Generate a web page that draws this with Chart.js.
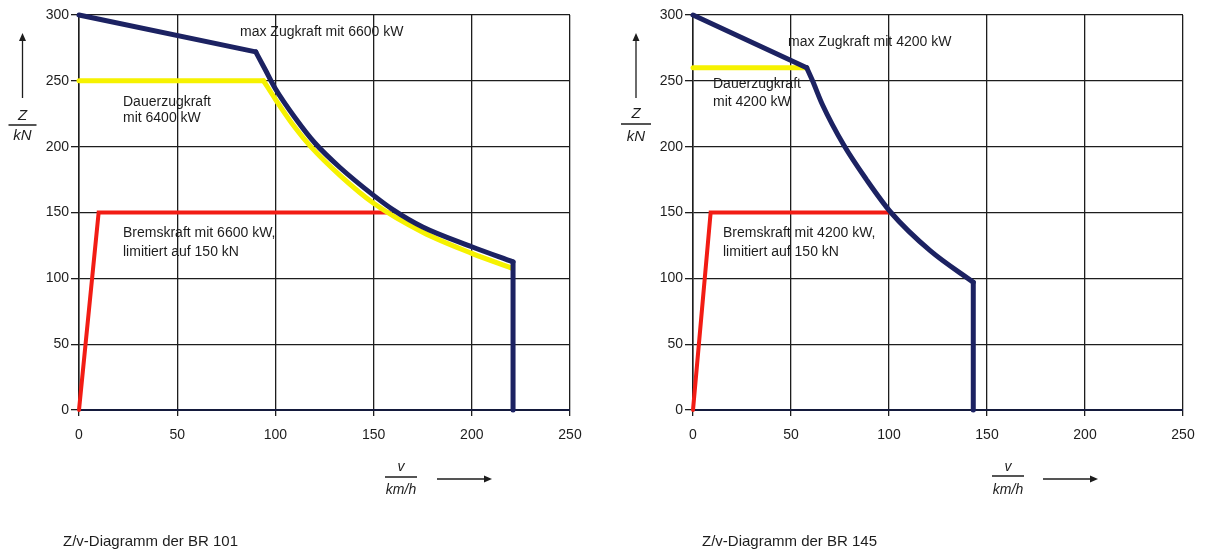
<!DOCTYPE html>
<html lang="de">
<head>
<meta charset="utf-8">
<title>Z/v-Diagramme BR 101 und BR 145</title>
<script src="https://cdn.jsdelivr.net/npm/chart.js@4/dist/chart.umd.min.js"></script>
<style>
  html, body { margin: 0; padding: 0; background: #ffffff; }
  #wrap { position: relative; width: 1207px; height: 554px; overflow: hidden; background: #fff; }
  .pane { position: absolute; top: 0; height: 554px; }
  #paneA { left: 0; width: 600px; }
  #paneB { left: 600px; width: 607px; }
</style>
</head>
<body>
<div id="wrap">
  <div class="pane" id="paneA"><canvas id="br101"></canvas></div>
  <div class="pane" id="paneB"><canvas id="br145"></canvas></div>
</div>
<script>
// ---- axis ticks (km/h and kN) ----
const speedTicks = [0, 50, 100, 150, 200, 250];
const forceTicks = [0, 50, 100, 150, 200, 250, 300];

// ---- BR 101 ----
// max. tractive effort: adhesion limit, power hyperbola, speed limit
const br101AdhesionSpeed = [0, 90];
const br101AdhesionForce = [300, 272];
const br101PowerSpeed = [90, 95, 100, 110, 120, 133, 150, 160, 175, 200, 221];
const br101PowerForce = [272, 258, 244, 222, 203, 184, 163, 152, 139, 124, 112.5];
const br101LimitSpeed = [221, 221];
const br101LimitForce = [112.5, 0];
// continuous tractive effort
const br101ContFlatSpeed = [0, 94];
const br101ContFlatForce = [250, 250];
const br101ContCurveSpeed = [94, 100, 110, 118, 133, 150, 175, 200, 220];
const br101ContCurveForce = [250, 236, 214.5, 200, 178, 157, 135, 119, 108];
// braking effort
const br101BrakeSpeed = [0, 10, 158];
const br101BrakeForce = [0, 150, 150];

// ---- BR 145 ----
const br145AdhesionSpeed = [0, 58];
const br145AdhesionForce = [300, 260];
const br145PowerSpeed = [58, 61, 66, 77, 88.5, 101, 121, 143];
const br145PowerForce = [260, 250, 232, 201, 175, 150, 121, 97];
const br145LimitSpeed = [143, 143];
const br145LimitForce = [97, 0];
const br145ContSpeed = [0, 58];
const br145ContForce = [260, 260];
const br145BrakeSpeed = [0, 9, 100];
const br145BrakeForce = [0, 150, 150];

const NAVY = '#1c2262';
const YELLOW = '#f6f200';
const RED = '#f21c14';
const INK = '#1d1d1d';
const FONT = '"Liberation Sans", Arial, Helvetica, sans-serif';

function pts(xs, ys) { return xs.map((x, i) => ({ x: x, y: ys[i] })); }

function line(label, xs, ys, color, width, smooth, order) {
  return {
    label: label,
    data: pts(xs, ys),
    borderColor: color,
    backgroundColor: color,
    borderWidth: width,
    pointRadius: 0,
    tension: smooth ? 0.4 : 0,
    cubicInterpolationMode: smooth ? 'monotone' : 'default',
    fill: false,
    clip: false,
    order: order,
    borderJoinStyle: 'miter',
    borderCapStyle: 'round'
  };
}

// Draws the in-plot labels, the axis quantity fractions with arrows and the caption.
const decorations = {
  id: 'decorations',
  afterDraw(chart, args, opts) {
    const ctx = chart.ctx;
    ctx.save();
    ctx.fillStyle = INK;
    ctx.strokeStyle = INK;
    ctx.textBaseline = 'middle';

    // annotations inside the plot
    ctx.font = '14px ' + FONT;
    ctx.textAlign = 'left';
    opts.notes.forEach(n => ctx.fillText(n.text, n.x, n.y));

    // y quantity: arrow + Z / kN
    const ya = opts.yTitle;
    ctx.lineWidth = 1.3;
    ctx.beginPath();
    ctx.moveTo(ya.x, ya.arrowBottom);
    ctx.lineTo(ya.x, ya.arrowTop + 6);
    ctx.stroke();
    ctx.beginPath();
    ctx.moveTo(ya.x, ya.arrowTop);
    ctx.lineTo(ya.x - 3.5, ya.arrowTop + 8);
    ctx.lineTo(ya.x + 3.5, ya.arrowTop + 8);
    ctx.closePath();
    ctx.fill();
    ctx.textAlign = 'center';
    ctx.font = 'italic 15px ' + FONT;
    ctx.fillText('Z', ya.x, ya.numY);
    ctx.fillText('kN', ya.x, ya.denY);
    ctx.lineWidth = 1.5;
    ctx.beginPath();
    ctx.moveTo(ya.x - ya.half, ya.barY);
    ctx.lineTo(ya.x + ya.half, ya.barY);
    ctx.stroke();

    // x quantity: v / km/h + arrow
    const xa = opts.xTitle;
    ctx.font = 'italic 14px ' + FONT;
    ctx.fillText('v', xa.x, xa.numY);
    ctx.fillText('km/h', xa.x, xa.denY);
    ctx.beginPath();
    ctx.moveTo(xa.x - xa.half, xa.barY);
    ctx.lineTo(xa.x + xa.half, xa.barY);
    ctx.stroke();
    ctx.lineWidth = 1.3;
    ctx.beginPath();
    ctx.moveTo(xa.arrowLeft, xa.arrowY);
    ctx.lineTo(xa.arrowRight - 6, xa.arrowY);
    ctx.stroke();
    ctx.beginPath();
    ctx.moveTo(xa.arrowRight, xa.arrowY);
    ctx.lineTo(xa.arrowRight - 8, xa.arrowY - 3.5);
    ctx.lineTo(xa.arrowRight - 8, xa.arrowY + 3.5);
    ctx.closePath();
    ctx.fill();

    // caption
    ctx.textAlign = 'left';
    ctx.font = '15px ' + FONT;
    ctx.fillText(opts.caption.text, opts.caption.x, opts.caption.y);
    ctx.restore();
  }
};

function makeChart(canvasId, datasets, yAxisWidth, padRight, deco) {
  return new Chart(document.getElementById(canvasId), {
    type: 'line',
    data: { datasets: datasets },
    plugins: [decorations],
    options: {
      responsive: true,
      maintainAspectRatio: false,
      animation: false,
      events: [],
      layout: { padding: { left: 0, right: padRight, top: 15, bottom: 0 } },
      plugins: {
        legend: { display: false },
        tooltip: { enabled: false },
        decorations: deco
      },
      scales: {
        x: {
          type: 'linear',
          min: speedTicks[0],
          max: speedTicks[speedTicks.length - 1],
          afterBuildTicks: s => { s.ticks = speedTicks.map(v => ({ value: v })); },
          afterFit: s => { s.height = 144; },
          grid: { color: INK, lineWidth: 1.3, tickLength: 6, tickColor: INK },
          border: { display: true, color: '#141a3c', width: 2 },
          ticks: { color: INK, padding: 11, maxRotation: 0, font: { family: FONT, size: 14 } }
        },
        y: {
          type: 'linear',
          min: forceTicks[0],
          max: forceTicks[forceTicks.length - 1],
          afterBuildTicks: s => { s.ticks = forceTicks.map(v => ({ value: v })); },
          afterFit: s => { s.width = yAxisWidth; },
          grid: { color: INK, lineWidth: 1.3, tickLength: 8, tickColor: INK },
          border: { display: true, color: INK, width: 1.5 },
          ticks: { color: INK, padding: 2, font: { family: FONT, size: 14 } }
        }
      }
    }
  });
}

// lower "order" is drawn on top: navy above yellow above red
makeChart('br101', [
  line('max Zugkraft mit 6600 kW', br101AdhesionSpeed, br101AdhesionForce, NAVY, 5, false, 1),
  line('max Zugkraft mit 6600 kW', br101PowerSpeed, br101PowerForce, NAVY, 5, true, 1),
  line('max Zugkraft mit 6600 kW', br101LimitSpeed, br101LimitForce, NAVY, 5, false, 1),
  line('Dauerzugkraft mit 6400 kW', br101ContFlatSpeed, br101ContFlatForce, YELLOW, 5, false, 2),
  line('Dauerzugkraft mit 6400 kW', br101ContCurveSpeed, br101ContCurveForce, YELLOW, 5, true, 2),
  line('Bremskraft mit 6600 kW, limitiert auf 150 kN', br101BrakeSpeed, br101BrakeForce, RED, 4, false, 3)
], 79, 30, {
  notes: [
    { text: 'max Zugkraft mit 6600 kW', x: 240, y: 32 },
    { text: 'Dauerzugkraft', x: 123, y: 102 },
    { text: 'mit 6400 kW', x: 123, y: 118 },
    { text: 'Bremskraft mit 6600 kW,', x: 123, y: 233 },
    { text: 'limitiert auf 150 kN', x: 123, y: 252 }
  ],
  yTitle: { x: 22.5, arrowTop: 33, arrowBottom: 98, numY: 116, barY: 125, denY: 136, half: 14 },
  xTitle: { x: 401, numY: 467, barY: 477, denY: 490, half: 16, arrowLeft: 437, arrowRight: 492, arrowY: 479 },
  caption: { text: 'Z/v-Diagramm der BR 101', x: 63, y: 542 }
});

makeChart('br145', [
  line('max Zugkraft mit 4200 kW', br145AdhesionSpeed, br145AdhesionForce, NAVY, 5, false, 1),
  line('max Zugkraft mit 4200 kW', br145PowerSpeed, br145PowerForce, NAVY, 5, true, 1),
  line('max Zugkraft mit 4200 kW', br145LimitSpeed, br145LimitForce, NAVY, 5, false, 1),
  line('Dauerzugkraft mit 4200 kW', br145ContSpeed, br145ContForce, YELLOW, 5, false, 2),
  line('Bremskraft mit 4200 kW, limitiert auf 150 kN', br145BrakeSpeed, br145BrakeForce, RED, 4, false, 3)
], 93, 24, {
  notes: [
    { text: 'max Zugkraft mit 4200 kW', x: 188, y: 42 },
    { text: 'Dauerzugkraft', x: 113, y: 84 },
    { text: 'mit 4200 kW', x: 113, y: 102 },
    { text: 'Bremskraft mit 4200 kW,', x: 123, y: 233 },
    { text: 'limitiert auf 150 kN', x: 123, y: 252 }
  ],
  yTitle: { x: 36, arrowTop: 33, arrowBottom: 98, numY: 114, barY: 124, denY: 137, half: 15 },
  xTitle: { x: 408, numY: 467, barY: 476, denY: 490, half: 16, arrowLeft: 443, arrowRight: 498, arrowY: 479 },
  caption: { text: 'Z/v-Diagramm der BR 145', x: 102, y: 542 }
});
</script>
</body>
</html>
